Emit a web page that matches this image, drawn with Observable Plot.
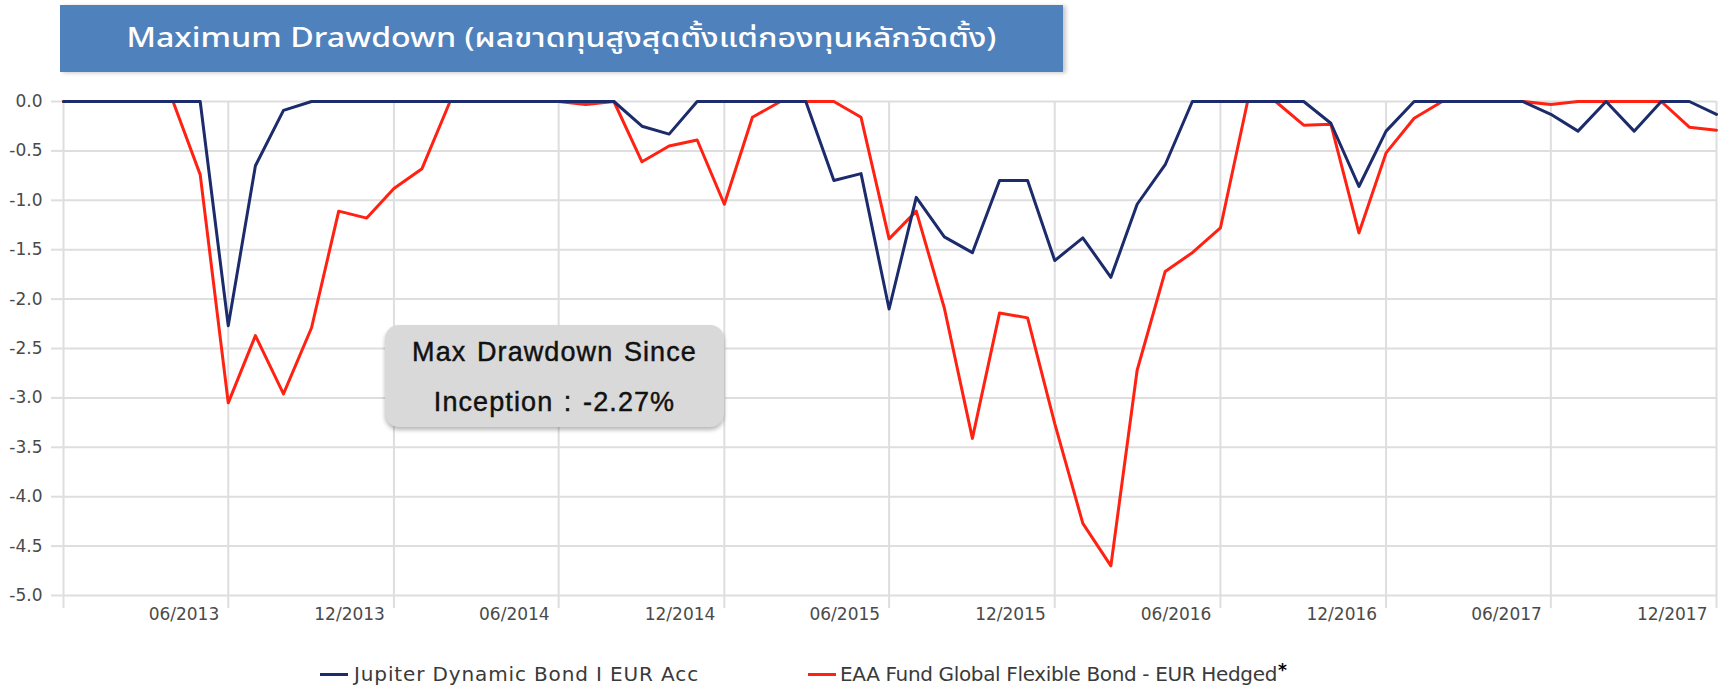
<!DOCTYPE html>
<html>
<head>
<meta charset="utf-8">
<script src="https://cdn.jsdelivr.net/npm/d3@7"></script>
<script src="https://cdn.jsdelivr.net/npm/@observablehq/plot@0.6"></script>
<style>
  html, body { margin: 0; padding: 0; background: #fff; }
  body { width: 1725px; height: 690px; position: relative; overflow: hidden; }
  #chart { position: absolute; left: 0; top: 0; }
  #banner {
    position: absolute; left: 60px; top: 5px; width: 1003px; height: 67px;
    background: #4f81bd; box-shadow: 3px 1px 4px rgba(0,0,0,0.22);
    display: flex; align-items: center; justify-content: center;
  }
  #title {
    color: #fff; font-family: "Noto Sans Thai", "Noto Sans", "DejaVu Sans", sans-serif;
    font-size: 27px; font-weight: 500;
    white-space: nowrap; display: inline-block; transform-origin: center center;
  }
  #note {
    position: absolute; left: 385px; top: 325px; width: 339px; height: 102px;
    background: #d9d9d9; border-radius: 14px; box-shadow: 0 3px 4px rgba(0,0,0,0.28);
    font-family: "Liberation Sans", Arial, sans-serif; font-size: 27px; letter-spacing: 1.1px;
    -webkit-text-stroke: 0.45px #111;
    color: #111; text-align: center; line-height: 50px; box-sizing: border-box; padding-top: 2px;
  }
  .leg { position: absolute; top: 661px; font-family: "DejaVu Sans", Verdana, sans-serif;
    font-size: 20px; color: #3a3a3a; white-space: nowrap; line-height: 26px; }
  .star { color: #000; font-weight: bold; font-size: 17px; position: relative; top: -5px; margin-left: 1px; letter-spacing: 0; }
  .sw { position: absolute; top: 673px; height: 3px; width: 28px; }
</style>
</head>
<body>
<div id="chart"></div>
<div id="banner"><span id="title"></span></div>
<div id="note"></div>
<div id="legend"></div>
<script>
// ---- data ----
const titleText = "Maximum Drawdown (ผลขาดทุนสูงสุดตั้งแต่กองทุนหลักจัดตั้ง)";
const noteLines = ["Max Drawdown Since", "Inception : -2.27%"];
const seriesNames = ["Jupiter Dynamic Bond I EUR Acc", "EAA Fund Global Flexible Bond - EUR Hedged"];
const seriesMarks = ["", "*"];
const seriesColors = ["#1c2b6b", "#ff2212"];

const months = [
  "2012-12",
  "2013-01","2013-02","2013-03","2013-04","2013-05","2013-06","2013-07","2013-08","2013-09","2013-10","2013-11","2013-12",
  "2014-01","2014-02","2014-03","2014-04","2014-05","2014-06","2014-07","2014-08","2014-09","2014-10","2014-11","2014-12",
  "2015-01","2015-02","2015-03","2015-04","2015-05","2015-06","2015-07","2015-08","2015-09","2015-10","2015-11","2015-12",
  "2016-01","2016-02","2016-03","2016-04","2016-05","2016-06","2016-07","2016-08","2016-09","2016-10","2016-11","2016-12",
  "2017-01","2017-02","2017-03","2017-04","2017-05","2017-06","2017-07","2017-08","2017-09","2017-10","2017-11","2017-12"
];

const jupiter = [
  0, 0, 0, 0, 0, 0, -2.27, -0.65, -0.09, 0, 0, 0, 0,
  0, 0, 0, 0, 0, 0, 0, 0, -0.25, -0.33, 0, 0,
  0, 0, 0, -0.80, -0.73, -2.10, -0.97, -1.37, -1.53, -0.80, -0.80, -1.61,
  -1.38, -1.78, -1.04, -0.64, 0, 0, 0, 0, 0, -0.22, -0.86, -0.30,
  0, 0, 0, 0, 0, -0.13, -0.30, 0, -0.30, 0, 0, -0.13
];

const eaa = [
  0, 0, 0, 0, 0, -0.74, -3.05, -2.37, -2.96, -2.29, -1.11, -1.18, -0.88,
  -0.68, 0, 0, 0, 0, 0, -0.03, 0, -0.61, -0.45, -0.39, -1.04,
  -0.16, 0, 0, 0, -0.16, -1.39, -1.11, -2.09, -3.41, -2.14, -2.19, -3.26,
  -4.27, -4.70, -2.72, -1.72, -1.53, -1.28, 0, 0, -0.24, -0.23, -1.33, -0.52,
  -0.17, 0, 0, 0, 0, -0.03, 0, 0, 0, 0, -0.26, -0.29
];

const yTicks = [0, -0.5, -1, -1.5, -2, -2.5, -3, -3.5, -4, -4.5, -5];
const yTickLabels = ["0.0", "-0.5", "-1.0", "-1.5", "-2.0", "-2.5", "-3.0", "-3.5", "-4.0", "-4.5", "-5.0"];
const xTickMonths = ["2012-12","2013-06","2013-12","2014-06","2014-12","2015-06","2015-12","2016-06","2016-12","2017-06","2017-12"];
const xTickLabels = ["", "06/2013", "12/2013", "06/2014", "12/2014", "06/2015", "12/2015", "06/2016", "12/2016", "06/2017", "12/2017"];

// ---- build ----
const parse = d3.utcParse("%Y-%m");
const rowsJ = months.map((m, i) => ({date: parse(m), value: jupiter[i]}));
const rowsE = months.map((m, i) => ({date: parse(m), value: eaa[i]}));
const xTickDates = xTickMonths.map(parse);
const xLab = xTickDates.map((d, i) => ({date: d, label: xTickLabels[i]}));
const yLabMap = new Map(yTicks.map((v, i) => [v, yTickLabels[i]]));
const grid = "#dedede";

const chart = Plot.plot({
  width: 1725, height: 690,
  marginTop: 101, marginBottom: 95, marginLeft: 63, marginRight: 9,
  style: {fontFamily: "'DejaVu Sans', Verdana, sans-serif", fontSize: "17px", background: "transparent"},
  x: {type: "utc", domain: [parse(months[0]), parse(months[months.length - 1])]},
  y: {domain: [-5, 0]},
  marks: [
    Plot.gridY(yTicks, {stroke: grid, strokeOpacity: 1, strokeWidth: 2}),
    Plot.gridX(xTickDates, {stroke: grid, strokeOpacity: 1, strokeWidth: 2}),
    Plot.axisY(yTicks, {tickSize: 12, tickPadding: 9, tickFormat: d => yLabMap.get(d), stroke: grid, strokeWidth: 2, strokeOpacity: 1, fill: "#4a4a4a", fontSize: 17, label: null}),
    Plot.axisX(xTickDates, {tickSize: 13, tickFormat: () => "", stroke: grid, strokeWidth: 2, strokeOpacity: 1, label: null}),
    Plot.text(xLab, {x: "date", text: "label", frameAnchor: "bottom", dy: 24, dx: -9, textAnchor: "end", fill: "#4a4a4a", fontSize: 17}),
    Plot.line(rowsE, {x: "date", y: "value", stroke: seriesColors[1], strokeWidth: 3}),
    Plot.line(rowsJ, {x: "date", y: "value", stroke: seriesColors[0], strokeWidth: 3})
  ]
});
document.getElementById("chart").appendChild(chart);

// title
const t = document.getElementById("title");
t.textContent = titleText;
const tw = t.getBoundingClientRect().width;
if (tw > 0) t.style.transform = `scaleX(${870 / tw})`;

// note box
const note = document.getElementById("note");
noteLines.forEach(l => { const d = document.createElement("div"); d.textContent = l; d.style.wordSpacing = "2px"; note.appendChild(d); });

// legend
const legend = document.getElementById("legend");
const legPos = [{sw: 320, tx: 354, w: 345}, {sw: 808, tx: 840, w: 437}];
seriesNames.forEach((name, i) => {
  const sw = document.createElement("div");
  sw.className = "sw"; sw.style.left = legPos[i].sw + "px"; sw.style.background = seriesColors[i];
  legend.appendChild(sw);
  const tx = document.createElement("div");
  tx.className = "leg"; tx.style.left = legPos[i].tx + "px";
  const main = document.createElement("span");
  main.textContent = name;
  tx.appendChild(main);
  if (seriesMarks[i]) {
    const s = document.createElement("span");
    s.className = "star"; s.textContent = seriesMarks[i];
    tx.appendChild(s);
  }
  legend.appendChild(tx);
  const mw = main.getBoundingClientRect().width;
  if (mw > 0) main.style.letterSpacing = ((legPos[i].w - mw) / name.length) + "px";
});
</script>
</body>
</html>
